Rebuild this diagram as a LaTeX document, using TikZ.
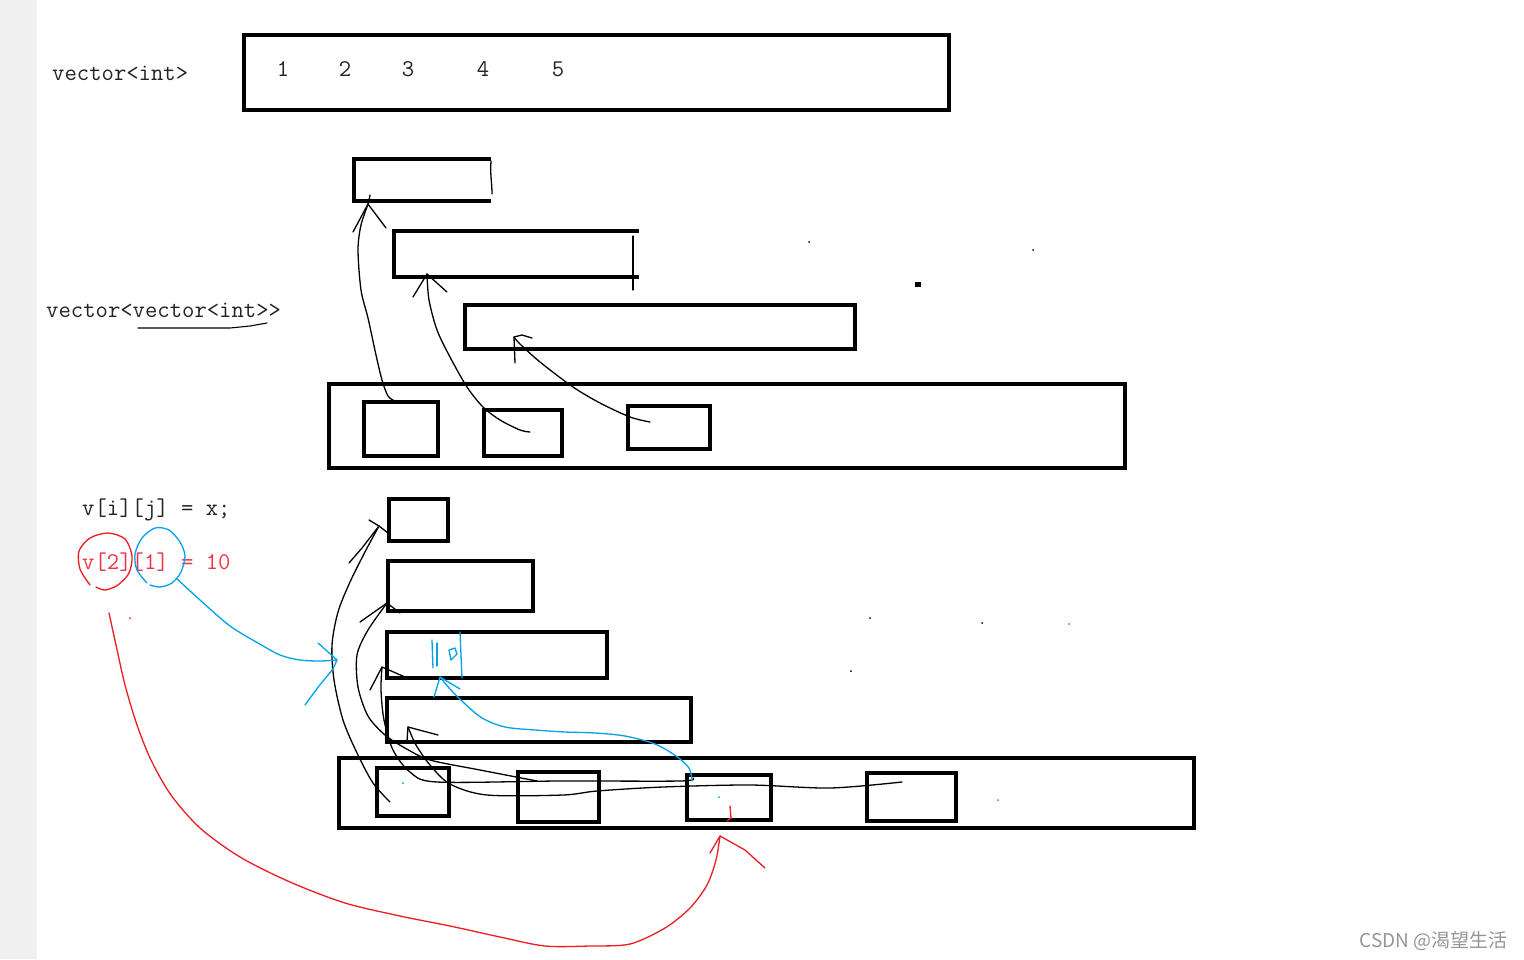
\documentclass[tikz,border=0pt]{standalone}
\usepackage{fontspec}
\setmonofont{Latin Modern Mono}
\newfontfamily\cjkfont{Noto Sans CJK SC}
\usetikzlibrary{calc}
\definecolor{pred}{RGB}{237,28,36}
\definecolor{pblue}{RGB}{0,162,232}
\definecolor{tred}{RGB}{240,50,70}
\definecolor{strip}{RGB}{240,240,240}
\definecolor{txt}{RGB}{35,35,35}
\begin{document}
\begin{tikzpicture}[x=1pt,y=-1pt,
  box/.style={draw,line width=3.8pt,inner sep=0pt,outer sep=0pt},
  frame/.style={draw=none,inner sep=0pt,outer sep=0pt},
  heavy/.style={line width=3.8pt},
  pen/.style={line width=1.3pt,line cap=round,line join=round},
  bpen/.style={pen,draw=pblue},
  rpen/.style={pen,draw=pred},
  lbl/.style={font=\ttfamily\fontsize{24}{25}\selectfont,inner sep=0pt,anchor=base west,text=txt},
  num/.style={font=\ttfamily\fontsize{24}{25}\selectfont,inner sep=0pt,anchor=base,text=txt}
]
\fill[white] (0,0) rectangle (1524,959);
\fill[strip] (0,0) rectangle (37,959);
\useasboundingbox (0,0) rectangle (1524,959);

% ---------- top vector<int> ----------
\node[lbl] (l1) at (52,80) {vector<int>};
\node[box,minimum width=705pt,minimum height=75pt] (T) at (596.5,72.5) {};
\node[num] (n1) at (283,76) {1};
\node[num] (n2) at (345,76) {2};
\node[num] (n3) at (408,76) {3};
\node[num] (n4) at (483,76) {4};
\node[num] (n5) at (558,76) {5};

% ---------- vector<vector<int>> ----------
\node[lbl] (l2) at (46,317) {vector<vector<int>>};
\coordinate (u1) at (138,328);
\coordinate (u2) at (267,323);
\draw[pen,line width=1.1pt] (u1) -- (230,328) -- (250,326) -- (u2);

\node[frame,minimum width=137pt,minimum height=42pt] (A1) at (422.5,180) {};
\draw[heavy] (A1.north east) -- (A1.north west) -- (A1.south west) -- (A1.south east);
\draw[pen] (491,161) .. controls (490,175) and (492,182) .. (492,194);
\node[frame,minimum width=245pt,minimum height=46pt] (A2) at (516.5,254) {};
\draw[heavy] (A2.north east) -- (A2.north west) -- (A2.south west) -- (A2.south east);
\draw[pen] (633,236) -- (633,290);
\node[box,minimum width=390pt,minimum height=44pt] (A3) at (660,327) {};

\node[box,minimum width=796pt,minimum height=84pt] (B) at (727,426) {};
\node[box,minimum width=74pt,minimum height=54pt] (b1) at (401,429) {};
\node[box,minimum width=78pt,minimum height=46pt] (b2) at (523,433) {};
\node[box,minimum width=82pt,minimum height=43pt] (b3) at (669,427.5) {};

% arrows b -> A
\coordinate (t1) at (395,401);
\coordinate (h1) at (368,204);
\draw[pen] plot[smooth] coordinates {(t1) (388,396) (382,380) (376,355) (368,318) (361,290) (358,250) (361,225) (h1) (370,195)};
\draw[pen] (353,232) -- (h1) -- (386,228);
\coordinate (t2) at (530,432);
\coordinate (h2) at (427,274);
\draw[pen] plot[smooth] coordinates {(t2) (520,430) (500,420) (483,407) (467,387) (450,357) (437,330) (429,300) (h2)};
\draw[pen] (413,297) -- (h2) -- (447,292);
\coordinate (t3) at (650,422);
\coordinate (h3) at (514,337);
\draw[pen] plot[smooth] coordinates {(t3) (630,417) (600,403) (573,387) (540,362) (520,344) (h3)};
\draw[pen] (515,363) -- (h3) -- (522,335) -- (532,338);

% ---------- assignment text ----------
\node[lbl] (l3) at (82,515) {v[i][j] = x;};
\node[lbl,text=tred] (l4) at (82,569) {v[2][1] = 10};

% ---------- bottom structure ----------
\node[box,minimum width=59pt,minimum height=42pt] (C1) at (418.5,520) {};
\node[box,minimum width=145pt,minimum height=50pt] (C2) at (460.5,586) {};
\node[box,minimum width=220pt,minimum height=46pt] (C3) at (497,655) {};
\node[box,minimum width=304pt,minimum height=44pt] (C4) at (539,720) {};

\node[box,minimum width=855pt,minimum height=70pt] (D) at (766.5,793) {};
\node[box,minimum width=72pt,minimum height=48pt] (d1) at (413,792) {};
\node[box,minimum width=81pt,minimum height=50pt] (d2) at (558.5,797) {};
\node[box,minimum width=84pt,minimum height=45pt] (d3) at (729,797.5) {};
\node[box,minimum width=89pt,minimum height=48pt] (d4) at (911.5,797) {};

% arrows d -> C
\coordinate (s1) at (390,802);
\coordinate (k1) at (379,526);
\draw[pen] plot[smooth] coordinates {(s1) (373,783) (357,753) (343,720) (334,680) (332,645) (338,612) (350,582) (366,550) (k1)};
\draw[pen] (369,520) -- (k1) -- (388,533);
\draw[pen] (k1) -- (362,548) -- (349,563);

\coordinate (s2) at (537,781);
\coordinate (k2) at (387,603);
\draw[pen] plot[smooth] coordinates {(s2) (480,770) (430,760) (405,748) (385,735) (368,716) (358,687) (357,655) (368,630) (k2)};
\draw[pen] (360,622) -- (k2) -- (400,613);

\coordinate (s3) at (693,778);
\coordinate (k3) at (382,667);
\draw[pen] plot[smooth] coordinates {(s3) (680,781) (560,781) (437,782) (410,772) (393,750) (384,720) (381,690) (k3)};
\draw[pen] (370,690) -- (k3) -- (405,677);

\coordinate (s4) at (902,782);
\coordinate (k4) at (408,727);
\draw[pen] plot[smooth] coordinates {(s4) (830,788) (750,785) (663,787) (597,791) (563,795) (487,795) (450,784) (430,765) (416,745) (k4)};
\draw[pen] (407,741) -- (k4) -- (438,735);

% ---------- red circle and arrow ----------
\draw[rpen] plot[smooth] coordinates {(90,585) (80,569) (79,551) (90,538) (108,533) (125,539) (132,556) (129,573) (118,585) (105,590) (96,587)};
\coordinate (r0) at (109,613);
\coordinate (rh) at (720,836);
\draw[rpen] plot[smooth] coordinates {(r0) (116,645) (125,685) (137,725) (151,760) (171,795) (200,828) (240,857) (290,882) (345,903) (400,916) (450,926) (500,937) (545,946) (590,946) (630,944) (665,928) (690,908) (707,885) (716,860) (rh)};
\draw[rpen] (710,853) -- (rh) -- (745,850) -- (765,868);
\draw[rpen] (730,806) -- (731,818) -- (727,821);
\fill[pred] (130,618) circle (1pt);

% ---------- blue circle and arrows ----------
\draw[bpen] plot[smooth] coordinates {(147,583) (137,570) (135,554) (142,538) (155,528) (169,530) (180,542) (185,556) (181,572) (172,583) (160,587) (150,585)};
\coordinate (bh) at (337,660);
\draw[bpen] plot[smooth] coordinates {(176,578) (200,600) (230,626) (258,643) (280,655) (300,660) (320,661) (bh)};
\draw[bpen] (318,643) -- (bh) -- (333,669) -- (319,686) -- (305,705);

% "110" written in C3
\draw[bpen] (432,640) -- (433,668);
\draw[bpen] (437,643) -- (437,666);
\draw[bpen] (449,650) -- (451,660) -- (457,654) -- (455,648) -- (449,650);
\draw[bpen] (460,632) -- (462,678);

\coordinate (bs) at (692,781);
\coordinate (bk) at (440,677);
\draw[bpen] plot[smooth] coordinates {(bs) (689,768) (676,756) (655,744) (625,736) (595,733) (565,732) (535,730) (505,727) (482,718) (463,702) (450,689) (bk)};
\draw[bpen] (434,697) -- (bk) -- (460,689);

% ---------- stray dots ----------
\fill (809,242) circle (1pt);
\fill (1033,250) circle (1pt);
\fill (915,282) rectangle (921,287);
\fill (870,618) circle (1pt);
\fill (982,623) circle (1pt);
\fill (851,671) circle (1pt);
\fill[pblue] (1069,624) circle (1pt);
\fill[pblue] (998,800) circle (1pt);
\fill[pblue] (403,783) circle (1pt);
\fill[pblue] (719,797) circle (1pt);

% ---------- watermark ----------
\node[font=\cjkfont\fontsize{19}{20}\selectfont,text={rgb,255:red,150;green,150;blue,150},inner sep=0pt,anchor=base east] (wm) at (1508,947) {CSDN @渴望生活};
\end{tikzpicture}
\end{document}
